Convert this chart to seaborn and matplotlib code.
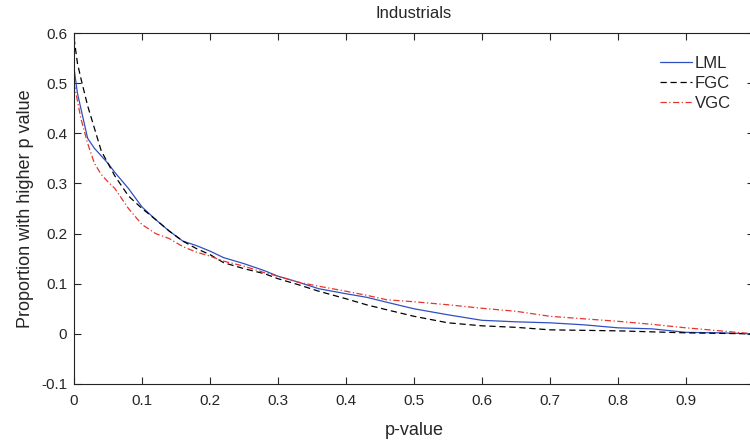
import matplotlib
matplotlib.use("Agg")
import matplotlib.pyplot as plt
import seaborn as sns
import pandas as pd

pvals = [0, 0.005, 0.01, 0.02, 0.03, 0.04, 0.05, 0.06, 0.08, 0.1, 0.12, 0.14,
         0.16, 0.18, 0.2, 0.22, 0.25, 0.28, 0.3, 0.33, 0.36, 0.4, 0.43, 0.46,
         0.5, 0.55, 0.6, 0.65, 0.7, 0.75, 0.8, 0.85, 0.9, 0.95, 1.0]

lml = [0.53, 0.48, 0.45, 0.39, 0.37, 0.355, 0.34, 0.322, 0.29, 0.253, 0.228, 0.205,
       0.185, 0.176, 0.165, 0.152, 0.14, 0.126, 0.115, 0.103, 0.09, 0.08, 0.073, 0.063,
       0.05, 0.038, 0.027, 0.024, 0.022, 0.018, 0.012, 0.01, 0.003, 0.002, 0.0]

fgc = [0.59, 0.54, 0.51, 0.455, 0.41, 0.365, 0.34, 0.315, 0.275, 0.25, 0.228, 0.205,
       0.185, 0.17, 0.158, 0.142, 0.13, 0.12, 0.11, 0.098, 0.085, 0.07, 0.058, 0.048,
       0.035, 0.022, 0.016, 0.013, 0.008, 0.007, 0.006, 0.004, 0.002, 0.001, 0.0]

vgc = [0.50, 0.465, 0.43, 0.38, 0.34, 0.318, 0.303, 0.29, 0.25, 0.218, 0.2, 0.19,
       0.174, 0.163, 0.155, 0.145, 0.135, 0.122, 0.115, 0.103, 0.095, 0.085, 0.077, 0.068,
       0.064, 0.058, 0.051, 0.045, 0.035, 0.03, 0.025, 0.019, 0.012, 0.006, 0.0]

xticks = [0, 0.1, 0.2, 0.3, 0.4, 0.5, 0.6, 0.7, 0.8, 0.9, 1]
yticks = [-0.1, 0, 0.1, 0.2, 0.3, 0.4, 0.5, 0.6]

df = pd.concat([
    pd.DataFrame({"p": pvals, "prop": lml, "method": "LML"}),
    pd.DataFrame({"p": pvals, "prop": fgc, "method": "FGC"}),
    pd.DataFrame({"p": pvals, "prop": vgc, "method": "VGC"}),
])

sns.set_style("ticks")
plt.rcParams["font.family"] = ["Liberation Sans", "DejaVu Sans"]

fig = plt.figure(figsize=(7.5, 4.43), dpi=100)
ax = fig.add_axes([0.0987, 0.1332, 0.9066, 0.7923])

palette = {"LML": "#3050c0", "FGC": "black", "VGC": "#e8342c"}
dashes = {"LML": "", "FGC": (5, 3), "VGC": (5, 2, 1, 2)}
sns.lineplot(data=df, x="p", y="prop", hue="method", style="method",
             palette=palette, dashes=dashes, linewidth=0.9, ax=ax)

ax.set_xlim(0, 1)
ax.set_ylim(-0.1, 0.6)
ax.set_xticks(xticks)
ax.set_xticklabels([f"{t:g}" for t in xticks])
ax.set_yticks(yticks)
ax.set_yticklabels([f"{t:g}" for t in yticks])
ax.tick_params(direction="in", top=True, right=True, labelsize=11, length=5,
               width=0.8)
ax.tick_params(axis="x", pad=7)
ax.tick_params(axis="y", pad=5)
for s in ax.spines.values():
    s.set_visible(True)
    s.set_linewidth(0.8)
    s.set_color("#222222")

ax.set_xlabel("p-value", fontsize=13, labelpad=10)
ax.set_ylabel("Proportion with higher p value", fontsize=13, labelpad=5)
ax.set_title("Industrials", fontsize=12, pad=11)

leg = ax.legend(loc="upper left", frameon=False, fontsize=12, handlelength=1.9,
                handletextpad=0.2, labelspacing=0.3, borderpad=0, borderaxespad=0,
                bbox_to_anchor=(0.88, 0.874), bbox_transform=fig.transFigure)

fig.savefig("out.png", dpi=100)
